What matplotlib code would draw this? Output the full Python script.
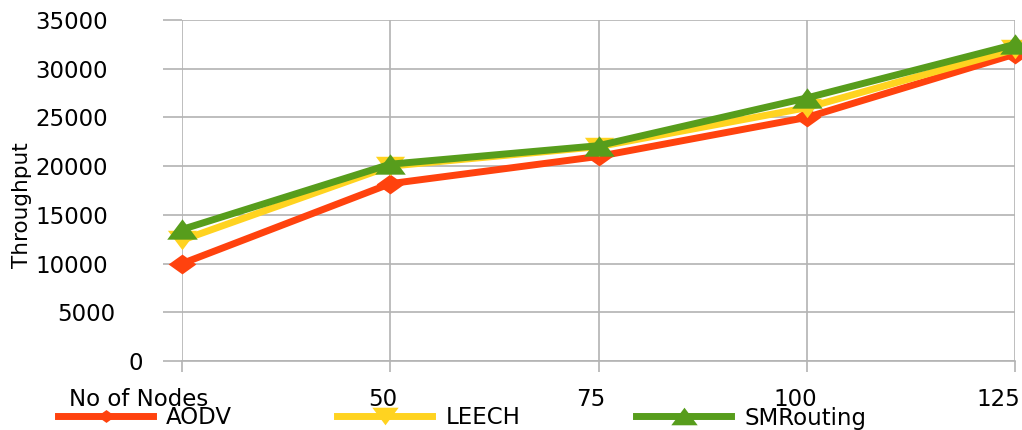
import matplotlib
matplotlib.use("Agg")
import matplotlib.pyplot as plt
from matplotlib.lines import Line2D
from matplotlib.transforms import ScaledTranslation

plt.rcParams["font.family"] = ["DejaVu Sans"]

# Chart data
categories = ["No of Nodes", "50", "75", "100", "125"]
aodv = [10000, 18200, 21000, 25000, 31500]
leech = [12400, 20000, 22000, 26000, 32000]
smrouting = [13500, 20200, 22100, 27000, 32500]
y_ticks = [0, 5000, 10000, 15000, 20000, 25000, 30000, 35000]

diamond = [(-1.4, 0), (0, -1), (1.4, 0), (0, 1)]
tri_down = [(-1.5, 1), (1.5, 1), (0, -1)]
tri_up = [(-1.5, -1), (1.5, -1), (0, 1)]

series = [
    ("AODV", aodv, "#ff420e", diamond, 20, 13),
    ("LEECH", leech, "#ffd320", tri_down, 21, 19),
    ("SMRouting", smrouting, "#579d1c", tri_up, 22, 19),
]

W, H = 1022, 430
FS = 16.5
fig = plt.figure(figsize=(W / 100, H / 100), dpi=100)
ax = fig.add_axes([182 / W, 69 / H, (1015 - 182) / W, (361 - 20) / H])

grid_c = "#b3b3b3"
x = list(range(len(categories)))
for name, vals, col, verts, ms, _ in series:
    ax.plot(x, vals, color=col, lw=5.0, marker=verts, markersize=ms,
            markeredgewidth=0, label=name, clip_on=False, zorder=3)

ax.set_xlim(0, 4)
ax.set_ylim(0, 35000)
ax.set_yticks(y_ticks)
ax.set_yticklabels([str(v) for v in y_ticks])
ax.set_xticks(x)
ax.set_xticklabels(categories)

ax.grid(True, color=grid_c, lw=1.2)
ax.set_axisbelow(True)
for s in ax.spines.values():
    s.set_visible(False)
ax.spines["bottom"].set_visible(True)
ax.spines["bottom"].set_color(grid_c)
ax.spines["bottom"].set_linewidth(1.2)

ax.tick_params(axis="y", length=13.7, width=1.2, color=grid_c, pad=14.4,
               labelsize=FS, labelcolor="black")
ax.tick_params(axis="x", length=8, width=1.2, color=grid_c, pad=11.5,
               labelsize=FS, labelcolor="black")


def nudge(label, dx_px):
    label.set_transform(label.get_transform()
                        + ScaledTranslation(dx_px / 100, 0, fig.dpi_scale_trans))


# category labels: keep the long first and last ones inside the figure
for lbl, dx in zip(ax.get_xticklabels(), [-43, -8, -8, -12, -17]):
    nudge(lbl, dx)

# value labels: the wider numbers sit further left
for lbl, dx in zip(ax.get_yticklabels(), [0, -28, -35, -35, -35, -35, -35, -35]):
    nudge(lbl, dx)

fig.text(22 / W, 1 - 205 / H, "Throughput", rotation=90, ha="center",
         va="center", fontsize=15.5)

# one legend entry per series, laid out along the bottom edge
legend_x = [58, 337, 636]
for (name, vals, col, verts, ms, lms), lx in zip(series, legend_x):
    h = Line2D([], [], color=col, lw=5.0, marker=verts, markersize=lms,
               markeredgewidth=0)
    fig.legend(handles=[h], labels=[name], loc="center left",
               bbox_to_anchor=(lx / W, 1 - 418 / H), frameon=False,
               fontsize=FS, borderpad=0, borderaxespad=0,
               handlelength=95 / (FS * 100 / 72), handletextpad=0.58)

fig.savefig("out.png", dpi=100)
